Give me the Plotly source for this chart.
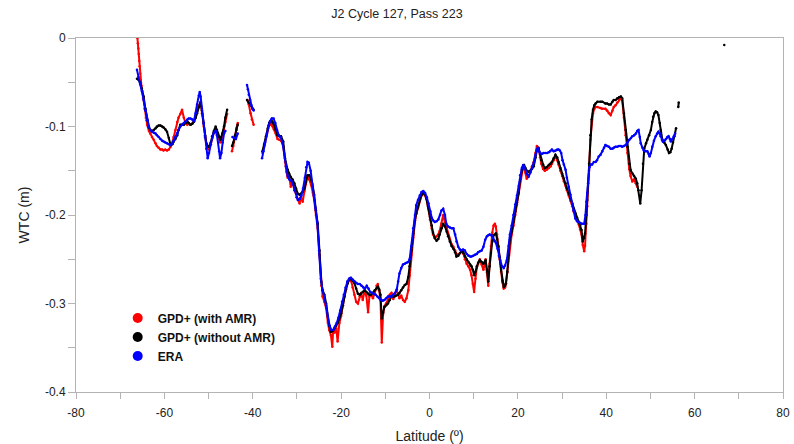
import plotly.graph_objects as go

# Wet tropospheric correction along J2 cycle 127, pass 223.
# None entries mark gaps in the along-track data.

lat_gpd_amr = [
    -66.1, -66.0, -65.9, -65.8, -65.7, -65.6, -65.5, -65.4, -65.2, -65.0, -64.8, -64.5, -64.2, -63.9, -63.5,
    -63.2, -62.8, -62.4, -62.0, -61.7, -61.3, -60.9, -60.5, -60.2, -59.8, -59.4, -59.0, -58.6, -58.2, -57.9,
    -57.5, -57.1, -56.8, -56.4, -56.0, -55.6, -55.2, -54.8, -54.5, -54.1, -53.7, -53.3, -52.9, -52.6, -52.2,
    -51.8, -51.5, -51.1, -50.8, -50.5, -50.2, -49.9, -49.5, -49.2, -48.8, -48.4, -48.1, -47.9, -47.6, -47.3,
    -46.9, -46.5, -46.2, -45.8, None,
    -44.7, -44.4, -44.0, -43.7, -43.4, None,
    -41.2, -40.9, -40.5, -40.2, -39.8, None,
    -37.8, -37.4, -37.0, -36.6, -36.3, -35.8, -35.5, -35.2, -34.8, -34.4, -34.0, -33.6, -33.1, -32.7, -32.4,
    -32.1, -31.8, -31.4, -31.0, -30.6, -30.2, -29.8, -29.4, -29.1, -28.7, -28.3, -28.0, -27.6, -27.2, -26.8,
    -26.4, -26.1, -25.7, -25.3, -24.9, -24.5, -24.2, -23.8, -23.4, -23.0, -22.7, -22.3, -22.0, -21.8, -21.5,
    -21.1, -20.8, -20.4, -20.0, -19.6, -19.3, -18.9, -18.5, -18.1, -17.7, -17.4, -17.0, -16.6, -16.2, -15.8,
    -15.5, -15.1, -14.7, -14.3, -13.9, -13.6, -13.2, -12.8, -12.4, -12.0, -11.7, -11.4, -11.1, -10.8, -10.5,
    -10.2, -9.8, -9.4, -9.0, -8.6, -8.2, -7.9, -7.5, -7.1, -6.8, -6.4, -6.0, -5.6, -5.2, -4.8,
    -4.5, -4.1, -3.7, -3.3, -3.0, -2.6, -2.2, -1.8, -1.4, -1.1, -0.7, -0.3, 0.1, 0.5, 0.8,
    1.2, 1.6, 2.0, 2.3, 2.7, 3.1, 3.5, 3.9, 4.2, 4.6, 5.0, 5.4, 5.8, 6.1, 6.5,
    6.9, 7.4, 7.7, 8.0, 8.4, 8.8, 9.2, 9.5, 9.8, 10.1, 10.4, 10.7, 11.0, 11.4, 11.8,
    12.2, 12.5, 12.7, 13.0, 13.3, 13.6, 13.9, 14.2, 14.5, 14.8, 15.0, 15.3, 15.6, 15.9, 16.2,
    16.5, 16.8, 17.1, 17.3, 17.6, 17.9, 18.2, 18.6, 19.0, 19.4, 19.8, 20.2, 20.5, 20.9, 21.2,
    21.4, 21.7, 22.0, 22.4, 22.8, 23.2, 23.6, 24.0, 24.3, 24.7, 25.0, 25.3, 25.7, 26.1, 26.5,
    27.0, 27.4, 27.7, 28.1, 28.5, 28.9, 29.2, 29.6, 30.0, 30.4, 30.8, 31.1, 31.5, 31.9, 32.3,
    32.6, 33.0, 33.4, 33.8, 34.1, 34.4, 34.7, 35.0, 35.2, 35.5, 35.7, 36.1, 36.4, 36.7, 37.0,
    37.3, 37.6, 38.0, 38.7, 39.1, 39.8, 40.2, 40.6, 41.0, 41.4, 41.7, 42.1, 42.5, 42.9, 43.3,
    43.6, 44.0, 44.4, 44.8, 45.2, 45.5, 45.9, 46.3, 46.7, 47.0,
]
wtc_gpd_amr = [
    0.000, -0.006, -0.012, -0.018, -0.026, -0.032, -0.040, -0.048, -0.054, -0.060, -0.068, -0.080, -0.090, -0.098, -0.105,
    -0.108, -0.112, -0.115, -0.119, -0.122, -0.124, -0.126, -0.126, -0.127, -0.126, -0.127, -0.126, -0.123, -0.118, -0.112,
    -0.104, -0.095, -0.090, -0.086, -0.081, -0.090, -0.096, -0.098, -0.096, -0.098, -0.097, -0.094, -0.088, -0.082, -0.076,
    -0.073, -0.085, -0.100, -0.112, -0.120, -0.124, -0.126, -0.120, -0.113, -0.107, -0.103, -0.106, -0.110, -0.114, -0.118,
    -0.112, -0.104, -0.095, -0.086, None,
    -0.128, -0.122, -0.112, -0.102, -0.096, None,
    -0.070, -0.075, -0.085, -0.092, -0.098, None,
    -0.130, -0.122, -0.113, -0.104, -0.099, -0.097, -0.100, -0.103, -0.108, -0.114, -0.115, -0.116, -0.122, -0.140, -0.151,
    -0.158, -0.155, -0.168, -0.162, -0.172, -0.176, -0.182, -0.187, -0.180, -0.185, -0.173, -0.165, -0.156, -0.160, -0.166,
    -0.175, -0.183, -0.200, -0.215, -0.245, -0.280, -0.292, -0.298, -0.305, -0.322, -0.330, -0.336, -0.349, -0.330, -0.333,
    -0.328, -0.343, -0.322, -0.314, -0.302, -0.292, -0.283, -0.276, -0.272, -0.275, -0.282, -0.290, -0.298, -0.300, -0.292,
    -0.288, -0.296, -0.286, -0.291, -0.310, -0.292, -0.290, -0.294, -0.288, -0.280, -0.278, -0.285, -0.296, -0.344, -0.312,
    -0.303, -0.300, -0.296, -0.290, -0.288, -0.295, -0.290, -0.285, -0.289, -0.294, -0.291, -0.296, -0.298, -0.294, -0.285,
    -0.268, -0.245, -0.225, -0.208, -0.199, -0.192, -0.184, -0.178, -0.176, -0.177, -0.182, -0.192, -0.205, -0.215, -0.222,
    -0.226, -0.224, -0.222, -0.218, -0.210, -0.200, -0.208, -0.215, -0.222, -0.228, -0.233, -0.236, -0.240, -0.244, -0.245,
    -0.243, -0.241, -0.244, -0.250, -0.255, -0.258, -0.262, -0.268, -0.278, -0.287, -0.272, -0.260, -0.255, -0.250, -0.256,
    -0.262, -0.255, -0.250, -0.265, -0.280, -0.255, -0.235, -0.220, -0.212, -0.210, -0.213, -0.222, -0.235, -0.250, -0.264,
    -0.276, -0.283, -0.282, -0.278, -0.265, -0.247, -0.232, -0.222, -0.212, -0.200, -0.188, -0.176, -0.162, -0.150, -0.145,
    -0.146, -0.152, -0.159, -0.156, -0.152, -0.145, -0.140, -0.130, -0.122, -0.124, -0.135, -0.142, -0.148, -0.150, -0.149,
    -0.147, -0.145, -0.142, -0.138, -0.134, -0.138, -0.143, -0.150, -0.156, -0.162, -0.167, -0.172, -0.178, -0.184, -0.190,
    -0.196, -0.201, -0.206, -0.211, -0.216, -0.222, -0.234, -0.241, -0.235, -0.210, -0.190, -0.150, -0.115, -0.095, -0.085,
    -0.080, -0.078, -0.078, -0.079, -0.080, -0.080, -0.082, -0.085, -0.087, -0.082, -0.078, -0.076, -0.073, -0.070, -0.068,
    -0.070, -0.090, -0.110, -0.130, -0.148, -0.156, -0.162, -0.160, -0.164, -0.168,
]

lat_gpd_noamr = [
    -66.2, -65.9, -65.5, -65.1, -64.7, -64.3, -63.9, -63.5, -63.2, -62.8, -62.4, -62.0, -61.7, -61.3, -60.9,
    -60.5, -60.2, -59.8, -59.4, -59.0, -58.6, -58.2, -57.9, -57.5, -57.1, -56.8, -56.4, -56.0, -55.6, -55.2,
    -54.8, -54.5, -54.1, -53.7, -53.3, -52.9, -52.6, -52.2, -51.8, -51.5, -51.1, -50.8, -50.5, -50.2, -49.9,
    -49.5, -49.2, -48.8, -48.4, -48.1, -47.9, -47.6, -47.3, -46.9, -46.5, -46.2, -45.8, None,
    -44.7, -44.4, -44.0, -43.7, -43.4, None,
    -41.3, -40.9, -40.5, -40.1, -39.8, None,
    -37.8, -37.4, -37.0, -36.6, -36.3, -35.8, -35.5, -35.2, -34.8, -34.4, -34.0, -33.6, -33.1, -32.7, -32.1,
    -31.8, -31.4, -31.0, -30.6, -30.2, -29.8, -29.4, -29.1, -28.7, -28.3, -28.0, -27.6, -27.2, -26.8, -26.4,
    -26.1, -25.7, -25.3, -24.9, -24.5, -24.2, -23.8, -23.4, -23.0, -22.7, -22.3, -21.9, -21.5, -21.1, -20.8,
    -20.4, -20.0, -19.6, -19.3, -18.9, -18.5, -18.1, -17.7, -17.4, -17.0, -16.6, -16.2, -15.8, -15.5, -15.1,
    -14.7, -14.3, -13.9, -13.6, -13.2, -12.8, -12.4, -12.0, -11.7, -11.4, -11.1, -10.8, -10.5, -10.2, -9.8,
    -9.4, -9.0, -8.6, -8.2, -7.9, -7.5, -7.1, -6.8, -6.4, -6.0, -5.6, -5.2, -4.8, -4.5, -4.1,
    -3.7, -3.3, -3.0, -2.6, -2.2, -1.8, -1.4, -1.1, -0.7, -0.3, 0.1, 0.5, 0.8, 1.2, 1.6,
    2.0, 2.3, 2.7, 3.1, 3.5, 3.9, 4.2, 4.6, 5.0, 5.4, 5.8, 6.1, 6.5, 6.9, 7.4,
    7.7, 8.0, 8.4, 8.8, 9.2, 9.5, 9.8, 10.1, 10.4, 10.7, 11.0, 11.4, 11.8, 12.2, 12.5,
    12.7, 13.0, 13.3, 13.6, 13.9, 14.2, 14.5, 15.0, 15.3, 15.6, 15.9, 16.2, 16.5, 16.8, 17.1,
    17.3, 17.6, 17.9, 18.2, 18.6, 19.0, 19.4, 19.8, 20.2, 20.5, 20.9, 21.2, 21.4, 21.7, 22.0,
    22.4, 22.8, 23.2, 23.6, 24.0, 24.3, 24.7, 25.0, 25.3, 25.7, 26.1, 26.5, 27.0, 27.4, 27.7,
    28.1, 28.5, 28.9, 29.2, 29.6, 30.0, 30.4, 30.8, 31.1, 31.5, 31.9, 32.3, 32.6, 33.0, 33.4,
    33.8, 34.1, 34.4, 34.7, 35.0, 35.2, 35.5, 35.7, 36.1, 36.4, 36.7, 37.0, 37.3, 37.6, 38.0,
    38.7, 39.1, 39.8, 40.2, 40.6, 41.0, 41.4, 41.7, 42.1, 42.5, 42.9, 43.3, 43.6, 44.0, 44.4,
    44.8, 45.2, 45.5, 45.9, 46.3, 46.7, 47.0, 47.3, 47.7, 48.0, 48.3, 48.6, 49.0, 49.3, 49.7,
    50.1, 50.4, 50.6, 50.9, 51.2, 51.5, 51.8, 52.1, 52.3, 52.7, 53.1, 53.5, 53.9, 54.2, 54.5,
    54.8, 55.1, 55.4, 55.8, None,
    56.3, 56.4, None,
    66.7,
]
wtc_gpd_noamr = [
    -0.046, -0.047, -0.050, -0.057, -0.066, -0.080, -0.093, -0.101, -0.104, -0.105, -0.104, -0.102, -0.100, -0.099, -0.099,
    -0.100, -0.101, -0.103, -0.106, -0.113, -0.121, -0.120, -0.117, -0.114, -0.110, -0.104, -0.098, -0.098, -0.098, -0.096,
    -0.0945, -0.096, -0.098, -0.097, -0.0945, -0.090, -0.085, -0.078, -0.072, -0.082, -0.096, -0.110, -0.119, -0.122, -0.123,
    -0.118, -0.111, -0.105, -0.100, -0.104, -0.108, -0.112, -0.115, -0.108, -0.100, -0.090, -0.081, None,
    -0.122, -0.118, -0.110, -0.104, -0.098, None,
    -0.070, -0.073, -0.076, -0.080, -0.081, None,
    -0.128, -0.120, -0.111, -0.102, -0.096, -0.093, -0.095, -0.098, -0.104, -0.110, -0.111, -0.111, -0.117, -0.136, -0.149,
    -0.153, -0.157, -0.160, -0.164, -0.170, -0.176, -0.177, -0.176, -0.174, -0.170, -0.163, -0.155, -0.155, -0.160, -0.168,
    -0.177, -0.195, -0.210, -0.240, -0.275, -0.285, -0.290, -0.300, -0.315, -0.325, -0.332, -0.331, -0.328, -0.325, -0.322,
    -0.317, -0.311, -0.302, -0.292, -0.284, -0.277, -0.273, -0.272, -0.274, -0.277, -0.283, -0.289, -0.290, -0.289, -0.287,
    -0.285, -0.287, -0.289, -0.290, -0.290, -0.288, -0.285, -0.283, -0.281, -0.284, -0.290, -0.317, -0.310, -0.304, -0.302,
    -0.300, -0.296, -0.292, -0.292, -0.292, -0.291, -0.290, -0.288, -0.285, -0.282, -0.279, -0.278, -0.270, -0.258, -0.240,
    -0.221, -0.206, -0.198, -0.191, -0.183, -0.177, -0.175, -0.176, -0.181, -0.190, -0.202, -0.212, -0.220, -0.226, -0.229,
    -0.227, -0.222, -0.215, -0.210, -0.213, -0.219, -0.224, -0.230, -0.235, -0.238, -0.242, -0.247, -0.246, -0.243, -0.240,
    -0.243, -0.247, -0.250, -0.253, -0.256, -0.258, -0.262, -0.268, -0.264, -0.258, -0.254, -0.251, -0.253, -0.255, -0.253,
    -0.251, -0.262, -0.275, -0.258, -0.243, -0.230, -0.223, -0.221, -0.227, -0.236, -0.248, -0.262, -0.274, -0.281, -0.280,
    -0.277, -0.264, -0.245, -0.228, -0.219, -0.208, -0.196, -0.186, -0.174, -0.160, -0.149, -0.144, -0.1435, -0.147, -0.150,
    -0.151, -0.150, -0.148, -0.145, -0.135, -0.127, -0.125, -0.131, -0.138, -0.143, -0.147, -0.146, -0.1435, -0.142, -0.140,
    -0.136, -0.132, -0.135, -0.140, -0.147, -0.153, -0.159, -0.164, -0.170, -0.175, -0.181, -0.187, -0.193, -0.198, -0.203,
    -0.208, -0.212, -0.217, -0.230, -0.226, -0.221, -0.200, -0.183, -0.142, -0.110, -0.092, -0.081, -0.076, -0.074, -0.072,
    -0.072, -0.072, -0.074, -0.074, -0.075, -0.075, -0.072, -0.070, -0.070, -0.068, -0.067, -0.066, -0.068, -0.085, -0.104,
    -0.123, -0.142, -0.149, -0.153, -0.156, -0.159, -0.164, -0.172, -0.187, -0.172, -0.142, -0.125, -0.119, -0.115, -0.110,
    -0.104, -0.095, -0.089, -0.085, -0.083, -0.084, -0.087, -0.096, -0.104, -0.115, -0.118, -0.121, -0.126, -0.130, -0.129,
    -0.125, -0.118, -0.111, -0.102, None,
    -0.078, -0.073, None,
    -0.008,
]

lat_era = [
    -66.2, -65.9, -65.5, -65.1, -64.7, -64.3, -63.9, -63.5, -63.2, -62.8, -62.4, -62.0, -61.7, -61.3, -60.9,
    -60.5, -60.2, -59.8, -59.4, -59.0, -58.6, -58.2, -57.9, -57.5, -57.1, -56.8, -56.4, -56.0, -55.6, -55.2,
    -54.8, -54.5, -54.1, -53.7, -53.3, -52.9, -52.6, -52.2, -52.0, -51.8, -51.5, -51.1, -50.8, -50.5, -50.2,
    -49.9, -49.5, -49.2, -48.8, -48.4, -48.1, -47.8, -47.6, -47.4, -47.1, -46.8, -46.5, -46.2, None,
    -44.6, -44.2, -43.8, -43.4, None,
    -41.3, -41.1, -40.9, -40.6, -40.3, -40.0, -39.8, None,
    -37.9, -37.6, -37.2, -36.8, -36.4, -36.1, -35.7, -35.3, -34.9, -34.5, -34.1, -33.7, -33.3, -32.9, -32.5,
    -32.1, -31.7, -31.3, -30.9, -30.5, -30.1, -29.8, -29.4, -29.0, -28.6, -28.2, -27.9, -27.6, -27.3, -26.9,
    -26.5, -26.2, -25.8, -25.4, -25.0, -24.6, -24.2, -23.8, -23.4, -23.0, -22.6, -22.2, -21.8, -21.4, -21.0,
    -20.6, -20.2, -19.8, -19.4, -19.0, -18.6, -18.2, -17.8, -17.4, -17.0, -16.6, -16.2, -15.8, -15.4, -15.0,
    -14.6, -14.2, -13.8, -13.4, -13.0, -12.6, -12.2, -11.8, -11.4, -11.0, -10.6, -10.2, -9.8, -9.4, -9.0,
    -8.6, -8.2, -7.8, -7.4, -7.1, -6.8, -6.4, -6.0, -5.6, -5.2, -4.8, -4.5, -4.1, -3.7, -3.3,
    -3.0, -2.6, -2.2, -1.8, -1.4, -1.0, -0.6, -0.2, 0.2, 0.5, 0.8, 1.2, 1.6, 2.0, 2.4,
    2.7, 3.1, 3.5, 3.8, 4.2, 4.6, 5.0, 5.4, 5.8, 6.1, 6.5, 6.9, 7.2, 7.6, 8.0,
    8.4, 8.8, 9.2, 9.5, 9.9, 10.3, 10.7, 11.0, 11.4, 11.8, 12.2, 12.6, 13.0, 13.3, 13.6,
    14.0, 14.4, 14.7, 15.0, 15.4, 15.7, 16.0, 16.4, 16.8, 17.1, 17.5, 17.9, 18.2, 18.6, 19.0,
    19.4, 19.8, 20.2, 20.5, 20.9, 21.2, 21.6, 22.0, 22.4, 22.8, 23.2, 23.6, 24.0, 24.3, 24.5,
    24.8, 25.0, 25.4, 25.8, 26.2, 26.6, 27.0, 27.3, 27.7, 28.1, 28.5, 28.9, 29.2, 29.5, 29.8,
    30.1, 30.4, 30.8, 31.1, 31.5, 31.9, 32.3, 32.6, 33.0, 33.4, 33.8, 34.1, 34.5, 35.0, 35.3,
    35.5, 35.7, 35.9, 36.2, 36.5, 36.8, 37.2, 37.6, 37.9, 38.3, 38.7, 39.1, 39.5, 39.8, 40.2,
    40.6, 41.0, 41.4, 41.7, 42.1, 42.5, 42.9, 43.3, 43.6, 44.0, 44.4, 44.8, 45.2, 45.6, 45.9,
    46.3, 46.7, 47.0, 47.3, 47.6, 47.8, 48.2, 48.5, 48.9, 49.3, 49.6, 49.8, 50.1, 50.4, 50.8,
    51.2, 51.5, 51.8, 52.1, 52.3, 52.6, 52.8, 53.2, 53.5, 53.8, 54.1, 54.4, 54.6, 55.0, 55.3,
    55.6,
]
wtc_era = [
    -0.036, -0.044, -0.052, -0.060, -0.070, -0.082, -0.093, -0.100, -0.104, -0.106, -0.107, -0.108, -0.110, -0.112, -0.114,
    -0.116, -0.117, -0.118, -0.119, -0.120, -0.121, -0.119, -0.116, -0.112, -0.108, -0.104, -0.100, -0.098, -0.096, -0.094,
    -0.092, -0.091, -0.091, -0.092, -0.094, -0.085, -0.075, -0.065, -0.061, -0.066, -0.080, -0.097, -0.112, -0.125, -0.136,
    -0.130, -0.120, -0.113, -0.107, -0.105, -0.110, -0.118, -0.128, -0.136, -0.130, -0.118, -0.108, -0.105, None,
    -0.112, -0.113, -0.114, -0.108, None,
    -0.053, -0.058, -0.064, -0.070, -0.076, -0.080, -0.082, None,
    -0.136, -0.128, -0.118, -0.108, -0.099, -0.094, -0.091, -0.091, -0.096, -0.104, -0.110, -0.112, -0.118, -0.130, -0.145,
    -0.156, -0.160, -0.161, -0.165, -0.172, -0.180, -0.183, -0.182, -0.178, -0.170, -0.158, -0.146, -0.140, -0.141, -0.150,
    -0.165, -0.178, -0.192, -0.208, -0.240, -0.272, -0.285, -0.292, -0.302, -0.315, -0.325, -0.330, -0.330, -0.326, -0.322,
    -0.316, -0.308, -0.298, -0.290, -0.282, -0.275, -0.272, -0.271, -0.273, -0.275, -0.277, -0.278, -0.278, -0.280, -0.282,
    -0.283, -0.280, -0.283, -0.287, -0.288, -0.289, -0.290, -0.292, -0.294, -0.296, -0.297, -0.296, -0.294, -0.292, -0.292,
    -0.292, -0.290, -0.288, -0.284, -0.275, -0.266, -0.260, -0.256, -0.255, -0.254, -0.253, -0.250, -0.235, -0.215, -0.200,
    -0.189, -0.183, -0.178, -0.174, -0.173, -0.175, -0.180, -0.187, -0.196, -0.203, -0.206, -0.208, -0.207, -0.205, -0.200,
    -0.195, -0.193, -0.200, -0.210, -0.213, -0.214, -0.215, -0.215, -0.222, -0.230, -0.236, -0.239, -0.240, -0.239, -0.240,
    -0.244, -0.246, -0.247, -0.247, -0.246, -0.245, -0.244, -0.242, -0.241, -0.240, -0.236, -0.228, -0.224, -0.223, -0.222,
    -0.223, -0.226, -0.229, -0.231, -0.238, -0.246, -0.251, -0.258, -0.260, -0.257, -0.251, -0.235, -0.222, -0.212, -0.200,
    -0.188, -0.178, -0.167, -0.155, -0.147, -0.1435, -0.147, -0.153, -0.157, -0.152, -0.147, -0.141, -0.132, -0.126, -0.124,
    -0.128, -0.130, -0.131, -0.130, -0.130, -0.130, -0.129, -0.128, -0.126, -0.128, -0.127, -0.126, -0.126, -0.127, -0.130,
    -0.138, -0.143, -0.149, -0.158, -0.168, -0.177, -0.187, -0.195, -0.204, -0.207, -0.208, -0.209, -0.210, -0.210, -0.200,
    -0.185, -0.175, -0.164, -0.146, -0.143, -0.143, -0.140, -0.140, -0.138, -0.134, -0.132, -0.128, -0.124, -0.121, -0.122,
    -0.123, -0.125, -0.125, -0.124, -0.123, -0.123, -0.122, -0.122, -0.123, -0.122, -0.121, -0.118, -0.115, -0.113, -0.111,
    -0.110, -0.108, -0.105, -0.104, -0.112, -0.119, -0.124, -0.127, -0.128, -0.128, -0.131, -0.134, -0.130, -0.123, -0.116,
    -0.111, -0.108, -0.106, -0.108, -0.111, -0.115, -0.117, -0.116, -0.114, -0.112, -0.111, -0.114, -0.117, -0.114, -0.111,
    -0.108,
]

series_names = ["GPD+ (with AMR)", "GPD+ (without AMR)", "ERA"]
series_colors = ["#ff0000", "#000000", "#0000ff"]

x_tick_vals = [-80, -60, -40, -20, 0, 20, 40, 60, 80]
x_tick_text = ["-80", "-60", "-40", "-20", "0", "20", "40", "60", "80"]
y_tick_vals = [0, -0.1, -0.2, -0.3, -0.4]
y_tick_text = ["0", "-0.1", "-0.2", "-0.3", "-0.4"]

fig = go.Figure()

series = [
    (lat_gpd_amr, wtc_gpd_amr),
    (lat_gpd_noamr, wtc_gpd_noamr),
    (lat_era, wtc_era),
]
for (lats, wtcs), name, color in zip(series, series_names, series_colors):
    fig.add_trace(go.Scatter(
        x=lats, y=wtcs, mode="lines+markers", name=name,
        line=dict(color=color, width=2),
        marker=dict(color=color, size=2.5),
        connectgaps=False, showlegend=False,
    ))

# legend entries drawn as round dots
for name, color in zip(series_names, series_colors):
    fig.add_trace(go.Scatter(
        x=[None], y=[None], mode="markers", name=name,
        marker=dict(color=color, size=10),
    ))

base_font = "Liberation Sans, Arial, sans-serif"
axis_grey = "#b4b4b4"

fig.update_layout(
    width=794, height=444,
    margin=dict(l=76, r=11, t=38, b=52, autoexpand=False),
    paper_bgcolor="white", plot_bgcolor="white",
    font=dict(family=base_font, size=12, color="#222222"),
    title=dict(
        text="J2 Cycle 127, Pass 223",
        x=0.5, xref="container", xanchor="center",
        y=1 - 14 / 444, yref="container", yanchor="middle",
        font=dict(family=base_font, size=12.5, color="#222222"),
    ),
    legend=dict(
        x=0.059, y=0.25, xanchor="left", yanchor="top",
        bgcolor="rgba(0,0,0,0)",
        font=dict(family=base_font, size=12, color="#111111", weight="bold"),
        tracegroupgap=0, itemwidth=30,
    ),
    xaxis=dict(
        range=[-80, 80], tickvals=x_tick_vals, ticktext=x_tick_text,
        showgrid=False, zeroline=False, automargin=False,
        showline=True, linecolor=axis_grey, linewidth=1, mirror=True,
        ticks="outside", ticklen=6, tickcolor=axis_grey, ticklabelstandoff=4,
        minor=dict(dtick=10, ticks="outside", ticklen=6, tickcolor=axis_grey, showgrid=False),
        title=dict(text="Latitude (º)", standoff=12),
    ),
    yaxis=dict(
        range=[-0.4, 0], tickvals=y_tick_vals, ticktext=y_tick_text,
        showgrid=False, zeroline=False, automargin=False,
        showline=True, linecolor=axis_grey, linewidth=1, mirror=True,
        ticks="outside", ticklen=7, tickcolor=axis_grey,
        minor=dict(dtick=0.05, ticks="outside", ticklen=7, tickcolor=axis_grey, showgrid=False),
        title=dict(text="WTC (m)", standoff=12),
    ),
)

fig.write_html("out.html")
